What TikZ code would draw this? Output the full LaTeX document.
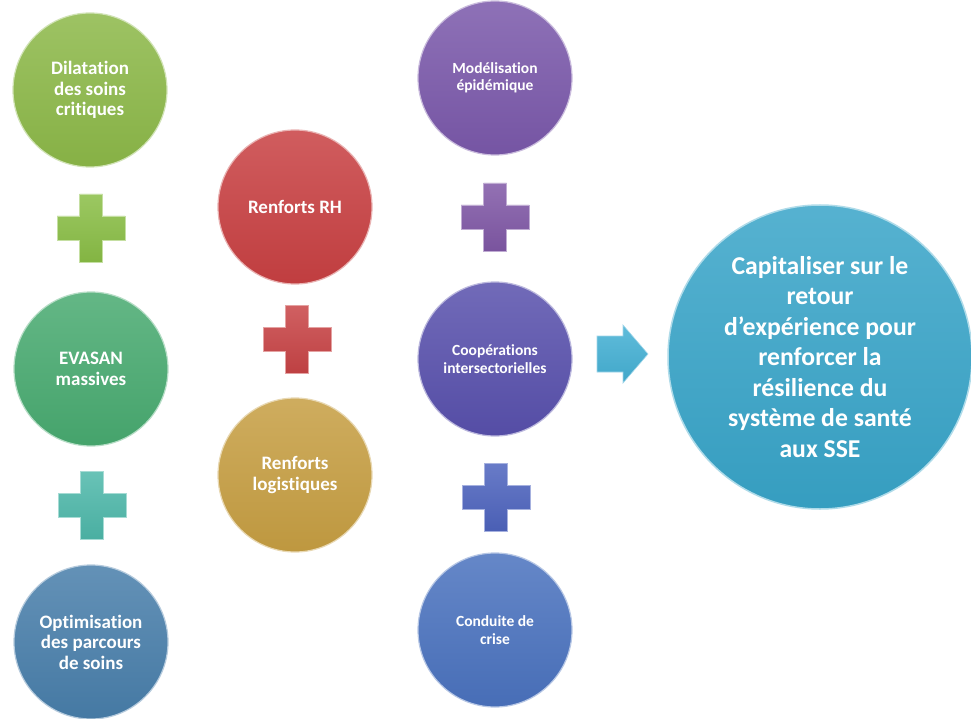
\documentclass[tikz,border=0pt]{standalone}
\usepackage{fontspec}
\setmainfont{Carlito}[Ligatures=CommonOff]
\definecolor{cGreenA}{RGB}{140,184,72}
\definecolor{cGreenB}{RGB}{72,170,112}
\definecolor{cSteel}{RGB}{72,126,170}
\definecolor{cRed}{RGB}{200,64,66}
\definecolor{cGold}{RGB}{198,158,66}
\definecolor{cPurple}{RGB}{122,88,170}
\definecolor{cIndigo}{RGB}{88,80,172}
\definecolor{cBlue}{RGB}{74,114,190}
\definecolor{cTeal}{RGB}{56,164,200}
\definecolor{pGreen}{RGB}{138,190,70}
\definecolor{pTeal}{RGB}{78,184,170}
\definecolor{pRed}{RGB}{200,68,70}
\definecolor{pPurple}{RGB}{128,88,166}
\definecolor{pBlue}{RGB}{78,100,190}
\definecolor{pArrow}{RGB}{68,176,212}
\tikzset{
  ball/.style={circle, minimum size=154pt, inner sep=0pt, text=white, align=center,
    top color=#1!85!white, bottom color=#1!96!black, draw=#1!40!white, line width=1.2pt,
    font=\bfseries\fontsize{19}{20.5}\selectfont},
  smalltext/.style={font=\bfseries\fontsize{15.5}{17.5}\selectfont},
  bigball/.style={circle, minimum size=304pt, inner sep=0pt, text=white, align=center,
    top color=#1!85!white, bottom color=#1!96!black, draw=#1!40!white, line width=1.5pt,
    font=\bfseries\fontsize{25.7}{30.5}\selectfont},
  plusfill/.style={top color=#1!85!white, bottom color=#1!95!black, draw=#1!50!white, line width=0.6pt}
}
\newcommand\plussign[3]{%
  \coordinate (#1) at #2;
  \begin{scope}[shift={(#1)}]
    \path[plusfill=#3] (-11.5,-34) -- (11.5,-34) -- (11.5,-12) -- (34,-12) -- (34,12)
      -- (11.5,12) -- (11.5,34) -- (-11.5,34) -- (-11.5,12) -- (-34,12) -- (-34,-12)
      -- (-11.5,-12) -- cycle;
  \end{scope}}
\begin{document}
\begin{tikzpicture}[x=1pt,y=-1pt]
\useasboundingbox[fill=white] (0,0) rectangle (971,719);
% column 1
\node[ball=cGreenA] (dil) at (90,90) {Dilatation\\des soins\\critiques};
\plussign{p1}{(91,228)}{pGreen}
\node[ball=cGreenB] (eva) at (91,369) {EVASAN\\massives};
\plussign{p2}{(92,505)}{pTeal}
\node[ball=cSteel] (opt) at (91,642) {Optimisation\\des parcours\\de soins};
% column 2
\node[ball=cRed] (rh) at (295,207) {Renforts RH};
\plussign{p3}{(297,339)}{pRed}
\node[ball=cGold] (log) at (295,475) {Renforts\\logistiques};
% column 3
\node[ball=cPurple, smalltext] (mod) at (495,78) {Modélisation\\épidémique};
\plussign{p4}{(495,217)}{pPurple}
\node[ball=cIndigo, smalltext] (coop) at (495,359) {Coopérations\\intersectorielles};
\plussign{p5}{(496,497)}{pBlue}
\node[ball=cBlue, smalltext] (crise) at (495,630) {Conduite de\\crise};
% arrow
\coordinate (arr) at (622,354);
\begin{scope}[shift={(arr)}]
  \path[plusfill=pArrow] (-25,-18) -- (1,-18) -- (1,-29) -- (26,0) -- (1,29) -- (1,18) -- (-25,18) -- cycle;
\end{scope}
% big circle
\node[bigball=cTeal] (cap) at (820,357) {Capitaliser sur le\\retour\\d’expérience pour\\renforcer la\\résilience du\\système de santé\\aux SSE};
\end{tikzpicture}
\end{document}
